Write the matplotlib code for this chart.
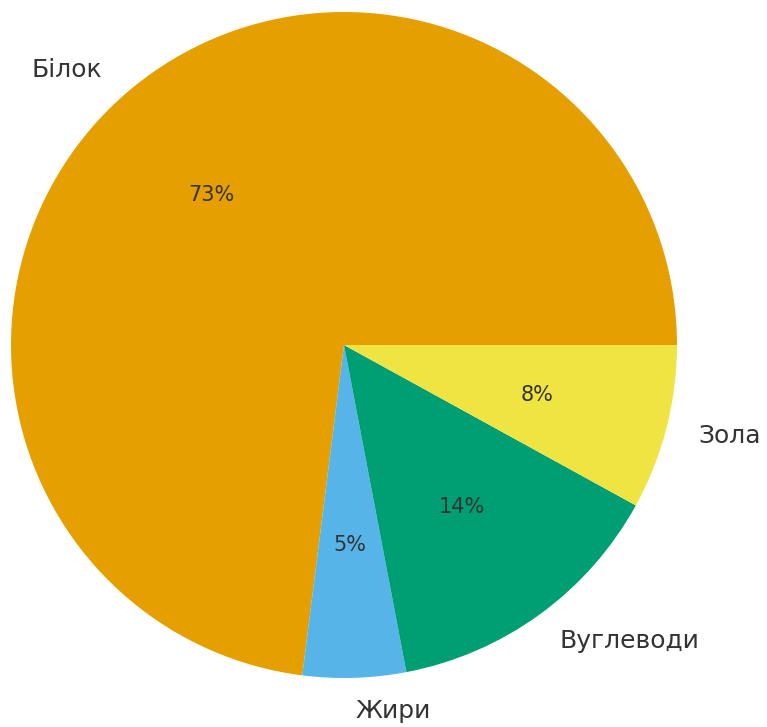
import matplotlib
matplotlib.use("Agg")
import matplotlib.pyplot as plt

# composition shares
labels = ["Білок", "Жири", "Вуглеводи", "Зола"]
values = [73, 5, 14, 8]
colors = ["#E69F00", "#56B4E9", "#009E73", "#F0E442"]

fig = plt.figure(figsize=(7.67, 7.27), dpi=100)
ax = fig.add_axes([11 / 767, 49 / 727, 666 / 767, 666 / 727])

wedges, texts, autotexts = ax.pie(
    values,
    labels=labels,
    colors=colors,
    autopct="%1.0f%%",
    startangle=0,
    counterclock=True,
    labeldistance=1.1,
    pctdistance=0.6,
    textprops={"color": "#333333"},
)
for t in texts:
    t.set_fontsize(18)
    t.set_clip_on(False)
for t in autotexts:
    t.set_fontsize(15)

ax.set_xlim(-1, 1)
ax.set_ylim(-1, 1)
ax.set_aspect("equal")
fig.savefig("out.png", dpi=100)
